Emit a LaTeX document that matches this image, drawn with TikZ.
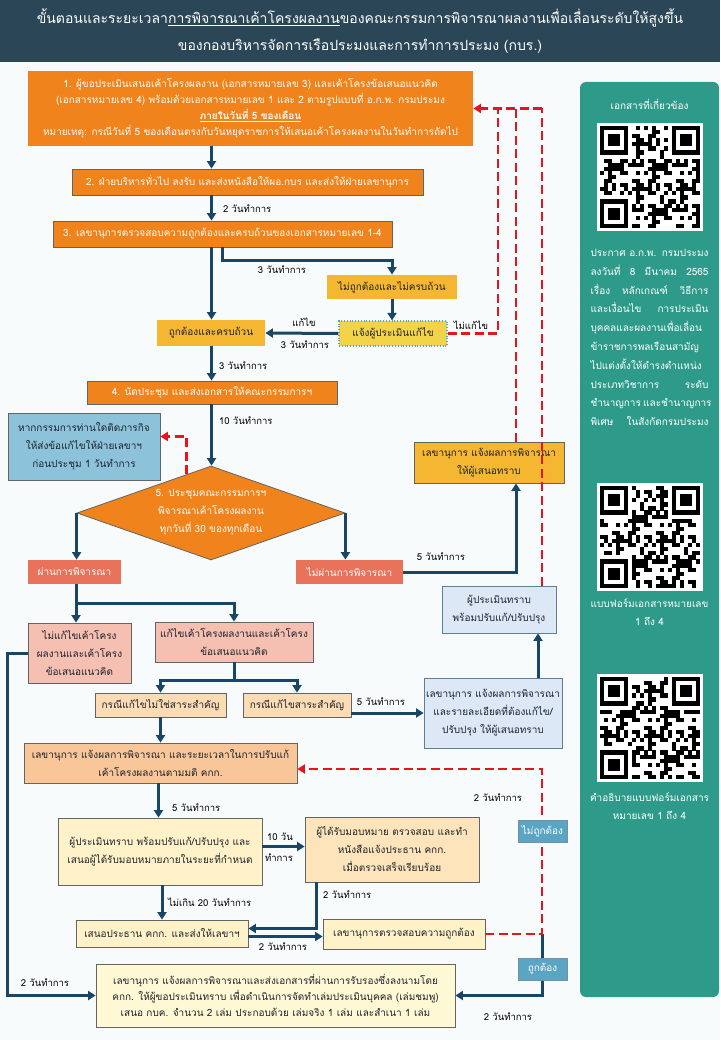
\documentclass[tikz,border=0pt]{standalone}
\usepackage{fontspec}
\setmainfont{Loma}[Script=Thai]
\usetikzlibrary{positioning,shapes.geometric,arrows.meta,calc}

\definecolor{titlebg}{RGB}{43,70,86}
\definecolor{pagebg}{RGB}{247,251,252}
\definecolor{stepor}{RGB}{240,131,28}
\definecolor{gold}{RGB}{245,183,50}
\definecolor{notifyc}{RGB}{243,211,74}
\definecolor{salmon}{RGB}{233,115,90}
\definecolor{pinkc}{RGB}{245,191,178}
\definecolor{peachc}{RGB}{252,220,180}
\definecolor{tanc}{RGB}{248,198,152}
\definecolor{creamc}{RGB}{255,242,200}
\definecolor{apricot}{RGB}{253,228,186}
\definecolor{ivory}{RGB}{255,248,212}
\definecolor{paleblue}{RGB}{220,232,245}
\definecolor{skyc}{RGB}{141,195,218}
\definecolor{tagc}{RGB}{90,164,196}
\definecolor{flowc}{RGB}{25,70,100}
\definecolor{redc}{RGB}{230,20,30}
\definecolor{panelc}{RGB}{46,155,138}
\definecolor{boxline}{RGB}{100,100,100}
\definecolor{inkc}{RGB}{30,35,45}

% fake qr code, #1,#2 = top left corner, #3 = offset
\newcommand{\qrpatch}[3]{%
  \begin{scope}[shift={(#1,#2)}]
    \fill[white] (0,0) rectangle (106,108);
    \foreach \i in {0,...,24}{
      \foreach \j in {0,...,24}{
        \pgfmathtruncatemacro{\infind}{(\i<8 && \j<8) || (\i>16 && \j<8) || (\i<8 && \j>16)}
        \ifnum\infind=0
          \pgfmathtruncatemacro{\bit}{mod(\i*\i*3+\j*\j*5+\i*\j*7+\i*11+\j*13+#3,11)<5}
          \ifnum\bit=1
            \fill[black] (3+\i*4,3+\j*4.08) rectangle ++(4.1,4.18);
          \fi
        \fi
      }
    }
    \foreach \a/\b in {0/0,18/0,0/18}{
      \fill[black] (3+\a*4,3+\b*4.08) rectangle ++(28,28.56);
      \fill[white] (7+\a*4,7.08+\b*4.08) rectangle ++(20,20.4);
      \fill[black] (11+\a*4,11.16+\b*4.08) rectangle ++(12,12.24);
    }
  \end{scope}}
\newcommand{\jline}[1]{\makebox[118pt][s]{#1}}

\begin{document}
\begin{tikzpicture}[x=1pt,y=-1pt,
    every node/.style = {font=\fontsize{10}{18}\selectfont, align=center,
      inner sep=1pt, text=inkc},
    box/.style = {shape=rectangle, draw=boxline, line width=0.8pt, inner sep=2pt},
    orangebox/.style = {box, fill=stepor, text=white},
    goldbox/.style = {box, fill=gold},
    salmonbox/.style = {box, fill=salmon, text=white},
    pinkbox/.style = {box, fill=pinkc},
    peachbox/.style = {box, fill=peachc},
    tanbox/.style = {box, fill=tanc},
    creambox/.style = {box, fill=creamc},
    apricotbox/.style = {box, fill=apricot},
    ivorybox/.style = {box, fill=ivory},
    bluebox/.style = {box, fill=paleblue, draw=flowc!70},
    skybox/.style = {box, fill=skyc},
    tag/.style = {box, fill=tagc, draw=flowc!60, text=white, minimum width=49pt, minimum height=22pt},
    size/.style 2 args = {minimum width=#1, minimum height=#2},
    lbl/.style = {font=\fontsize{9.5}{12}\selectfont, text=black},
    flow/.style = {draw=flowc, line width=3pt, -{Triangle[width=9pt,length=7.5pt]}},
    redflow/.style = {draw=redc, line width=2.8pt, dash pattern=on 9pt off 4.5pt,
      -{Triangle[width=9pt,length=7.5pt]}},
    redline/.style = {draw=redc, line width=2.8pt, dash pattern=on 9pt off 4.5pt}]

  % page, title and side panel
  \fill[pagebg] (0,0) rectangle (720,1040);
  \useasboundingbox (0,0) rectangle (720,1040);
  \fill[titlebg] (0,0) rectangle (720,62);
  \node[font=\fontsize{14}{27}\selectfont, text=white] (title) at (360,31)
    {ขั้นตอนและระยะเวลา\underline{การพิจารณาเค้าโครงผลงาน}ของคณะกรรมการพิจารณาผลงานเพื่อเลื่อนระดับให้สูงขึ้น\\
     ของกองบริหารจัดการเรือประมงและการทำการประมง (กบร.)};
  \fill[panelc, rounded corners=6pt] (580,82) rectangle (719,997);

  % lanes for the return lines
  \coordinate (trunk) at (211.5,0);
  \coordinate (laneA) at (498,108.5);
  \coordinate (laneB) at (516,108.5);
  \coordinate (laneC) at (542,108.5);

  % steps
  \node[orangebox, draw=none, size={445pt}{75pt}, font=\fontsize{10}{16}\selectfont] (n1) at (250.5,108.5)
    {1. ผู้ขอประเมินเสนอเค้าโครงผลงาน (เอกสารหมายเลข 3) และเค้าโครงข้อเสนอแนวคิด\\
     (เอกสารหมายเลข 4) พร้อมด้วยเอกสารหมายเลข 1 และ 2 ตามรูปแบบที่ อ.ก.พ. กรมประมง\\
     \underline{\textbf{ภายในวันที่ 5 ของเดือน}}\\
     หมายเหตุ: กรณีวันที่ 5 ของเดือนตรงกับวันหยุดราชการให้เสนอเค้าโครงผลงานในวันทำการถัดไป};
  \node[orangebox, size={351pt}{26pt}] (n2) at (247.5,182)
    {2. ฝ่ายบริหารทั่วไป ลงรับ และส่งหนังสือให้ผอ.กบร และส่งให้ฝ่ายเลขานุการ};
  \node[orangebox, size={339pt}{26pt}] (n3) at (222.5,234)
    {3. เลขานุการตรวจสอบความถูกต้องและครบถ้วนของเอกสารหมายเลข 1-4};
  \node[goldbox, draw=none, size={130pt}{24pt}] (nwrong) at (392,287) {ไม่ถูกต้องและไม่ครบถ้วน};
  \node[box, fill=notifyc, draw=tagc, dotted, line width=1.2pt, size={108pt}{25pt}] (nnotify) at (393,333.5)
    {แจ้งผู้ประเมินแก้ไข};
  \node[goldbox, draw=none, size={108pt}{26pt}] (nok) at (211,333) {ถูกต้องและครบถ้วน};
  \node[orangebox, size={250pt}{23pt}] (n4) at (212,392.5) {4. นัดประชุม และส่งเอกสารให้คณะกรรมการฯ};
  \node[skybox, size={152pt}{67pt}] (nabsent) at (84,446.5)
    {หากกรรมการท่านใดติดภารกิจ\\ให้ส่งข้อแก้ไขให้ฝ่ายเลขาฯ\\ก่อนประชุม 1 วันทำการ};
  \node[shape=diamond, draw=boxline, line width=0.8pt, fill=stepor, inner sep=0pt,
    size={268pt}{94pt}] (meet) at (211,513) {};
  \node[text=white] (meettxt) at (211,512)
    {5. ประชุมคณะกรรมการฯ\\พิจารณาเค้าโครงผลงาน\\ทุกวันที่ 30 ของทุกเดือน};
  \node[salmonbox, draw=none, size={93pt}{24pt}] (npass) at (74.5,572) {ผ่านการพิจารณา};
  \node[salmonbox, draw=none, size={107pt}{24pt}] (nfail) at (349.5,572) {ไม่ผ่านการพิจารณา};
  \node[goldbox, size={150pt}{41pt}] (nreport) at (489,462.5) {เลขานุการ แจ้งผลการพิจารณา\\ให้ผู้เสนอทราบ};
  \node[pinkbox, size={103pt}{60pt}] (nkeep) at (79.5,653)
    {ไม่แก้ไขเค้าโครง\\ผลงานและเค้าโครง\\ข้อเสนอแนวคิด};
  \node[pinkbox, size={158pt}{40pt}] (nrevise) at (234,642)
    {แก้ไขเค้าโครงผลงานและเค้าโครง\\ข้อเสนอแนวคิด};
  \node[peachbox, size={131pt}{24pt}] (nminor) at (160.5,705) {กรณีแก้ไขไม่ใช่สาระสำคัญ};
  \node[peachbox, size={108pt}{24pt}] (nmajor) at (297,705) {กรณีแก้ไขสาระสำคัญ};
  \node[bluebox, size={138pt}{70pt}] (ndetail) at (493,713)
    {เลขานุการ แจ้งผลการพิจารณา\\และรายละเอียดที่ต้องแก้ไข/\\ปรับปรุง ให้ผู้เสนอทราบ};
  \node[bluebox, size={114pt}{47pt}] (nack) at (499,609.5) {ผู้ประเมินทราบ\\พร้อมปรับแก้/ปรับปรุง};
  \node[tanbox, size={273pt}{40pt}] (nschedule) at (160.5,763)
    {เลขานุการ แจ้งผลการพิจารณา และระยะเวลาในการปรับแก้\\เค้าโครงผลงานตามมติ คกก.};
  \node[creambox, size={204pt}{67pt}] (nfix) at (160,851.5)
    {ผู้ประเมินทราบ พร้อมปรับแก้/ปรับปรุง และ\\เสนอผู้ได้รับมอบหมายภายในระยะที่กำหนด};
  \node[apricotbox, size={174pt}{65pt}] (nassign) at (392,849.5)
    {ผู้ได้รับมอบหมาย ตรวจสอบ และทำ\\หนังสือแจ้งประธาน คกก.\\เมื่อตรวจเสร็จเรียบร้อย};
  \node[creambox, size={172pt}{27pt}] (nchair) at (162,933.5) {เสนอประธาน คกก. และส่งให้เลขาฯ};
  \node[creambox, size={162pt}{30pt}] (ncheck) at (404,934) {เลขานุการตรวจสอบความถูกต้อง};
  \node[ivorybox, size={359pt}{63pt}, font=\fontsize{10}{16}\selectfont] (nfinal) at (275.5,995.5)
    {เลขานุการ แจ้งผลการพิจารณาและส่งเอกสารที่ผ่านการรับรองซึ่งลงนามโดย\\
     คกก. ให้ผู้ขอประเมินทราบ เพื่อดำเนินการจัดทำเล่มประเมินบุคคล (เล่มชมพู)\\
     เสนอ กบค. จำนวน 2 เล่ม ประกอบด้วย เล่มจริง 1 เล่ม และสำเนา 1 เล่ม};

  % main flow
  \draw[flow] (n1.south -| trunk) -- (n2.north -| trunk);
  \draw[flow] (n2.south -| trunk) -- (n3.north -| trunk);
  \draw[flow] (n3.south -| trunk) -- (nok.north -| trunk);
  \draw[flow] ([xshift=11pt]n3.south -| trunk) -- ++(0,13) -| (nwrong.north);
  \draw[flow] (nwrong.south) -- (nwrong.south |- nnotify.north);
  \draw[flow] (nnotify.west) -- (nok.east);
  \draw[flow] (nok.south -| trunk) -- (n4.north -| trunk);
  \draw[flow] (n4.south -| trunk) -- (meet.north -| trunk);
  \draw[flow] (meet.west) -- (meet.west |- npass.north);
  \draw[flow] (meet.east) -- (meet.east |- nfail.north);
  \draw[flow] (nfail.east) -| (nreport.south -| laneB);
  \draw[flow] ([xshift=1.5pt]npass.south) -- ([xshift=1.5pt]npass.south |- nkeep.north);
  \draw[flow] ([xshift=1.5pt]npass.south) -- ++(0,19) -| (nrevise.north);
  \draw[flow] (nrevise.south) -- ++(0,18) -| (nminor.north);
  \draw[flow] (nrevise.south) -- ++(0,18) -| (nmajor.north);
  \draw[flow] ([yshift=-8pt]nmajor.east) -- (ndetail.west);
  \draw[flow] ([xshift=45pt]ndetail.north) -- ([xshift=45pt]ndetail.north |- nack.south);
  \draw[flow] (nminor.south) -- (nschedule.north);
  \draw[flow] ([xshift=-2pt]nschedule.south) -- ([xshift=-2pt]nschedule.south |- nfix.north);
  \draw[flow] ([yshift=5pt]nfix.east) -- ([yshift=5pt]nfix.east -| nassign.west);
  \draw[flow] ([xshift=2pt]nfix.south) -- ([xshift=2pt]nfix.south |- nchair.north);
  \draw[flow] ([xshift=-76pt]nassign.south) |- ([yshift=5pt]nchair.east);
  \draw[flow] ([yshift=-3pt]nchair.east) -- ([yshift=-3pt]nchair.east -| ncheck.west);
  \draw[flow] (ncheck.east -| laneC) |- (nfinal.east);
  \draw[flow] (nkeep.west) -- ++(-20,0) |- (nfinal.west);

  % return lines
  \draw[redline] (nnotify.east) -| (laneA);
  \draw[redline] (nreport.north -| laneB) -- (laneB);
  \draw[redline] (nack.north -| laneC) -- (laneC);
  \draw[redflow] (laneC) -- (n1.east);
  \draw[redflow] ($(meet.north)!0.18!(meet.west)$) |- ([yshift=10pt]nabsent.east);
  \draw[redflow] (ncheck.east) -| ($(nschedule.east -| laneC)+(0,6)$) -- ($(nschedule.east)+(0,6)$);

  % tags on the last check
  \node[tag] (nbad) at (542.5,831) {ไม่ถูกต้อง};
  \node[tag] (ngood) at (542.5,969) {ถูกต้อง};

  % time labels
  \node[lbl, anchor=west] (t1) at (222,209) {2 วันทำการ};
  \node[lbl] (t2) at (282,270) {3 วันทำการ};
  \node[lbl] (t3) at (304,322) {แก้ไข};
  \node[lbl] (t4) at (305,345) {3 วันทำการ};
  \node[lbl] (t5) at (471,325) {ไม่แก้ไข};
  \node[lbl, anchor=west] (t6) at (218,366) {3 วันทำการ};
  \node[lbl, anchor=west] (t7) at (218,421) {10 วันทำการ};
  \node[lbl] (t8) at (441,557) {5 วันทำการ};
  \node[lbl] (t9) at (381,702) {5 วันทำการ};
  \node[lbl, anchor=west] (t10) at (171,808) {5 วันทำการ};
  \node[lbl] (t11) at (280,837) {10 วัน};
  \node[lbl] (t12) at (279,858) {ทำการ};
  \node[lbl, anchor=west] (t13) at (167,902) {ไม่เกิน 20 วันทำการ};
  \node[lbl, anchor=west] (t14) at (322,895) {2 วันทำการ};
  \node[lbl] (t15) at (283,947) {2 วันทำการ};
  \node[lbl] (t16) at (45,983) {2 วันทำการ};
  \node[lbl] (t17) at (498,798) {2 วันทำการ};
  \node[lbl] (t18) at (508,1017) {2 วันทำการ};

  % side panel
  \node[text=white] (docs) at (649.5,104) {เอกสารที่เกี่ยวข้อง};
  \qrpatch{597}{123}{3}
  \node[text=white, font=\fontsize{10}{18.8}\selectfont] (docone) at (649.5,337.5)
    {\jline{ประกาศ อ.ก.พ. กรมประมง}\\ \jline{ลงวันที่ 8 มีนาคม 2565}\\
     \jline{เรื่อง หลักเกณฑ์ วิธีการ}\\ \jline{และเงื่อนไข การประเมิน}\\
     \jline{บุคคลและผลงานเพื่อเลื่อน}\\ \jline{ข้าราชการพลเรือนสามัญ}\\
     \jline{ไปแต่งตั้งให้ดำรงตำแหน่ง}\\ \jline{ประเภทวิชาการ ระดับ}\\
     \jline{ชำนาญการ และชำนาญการ}\\ \jline{พิเศษ ในสังกัดกรมประมง}};
  \qrpatch{597}{483}{7}
  \node[text=white] (doctwo) at (649.5,612.5) {แบบฟอร์มเอกสารหมายเลข\\1 ถึง 4};
  \qrpatch{597}{674}{5}
  \node[text=white] (docthree) at (649.5,806) {คำอธิบายแบบฟอร์มเอกสาร\\หมายเลข 1 ถึง 4};
\end{tikzpicture}
\end{document}
